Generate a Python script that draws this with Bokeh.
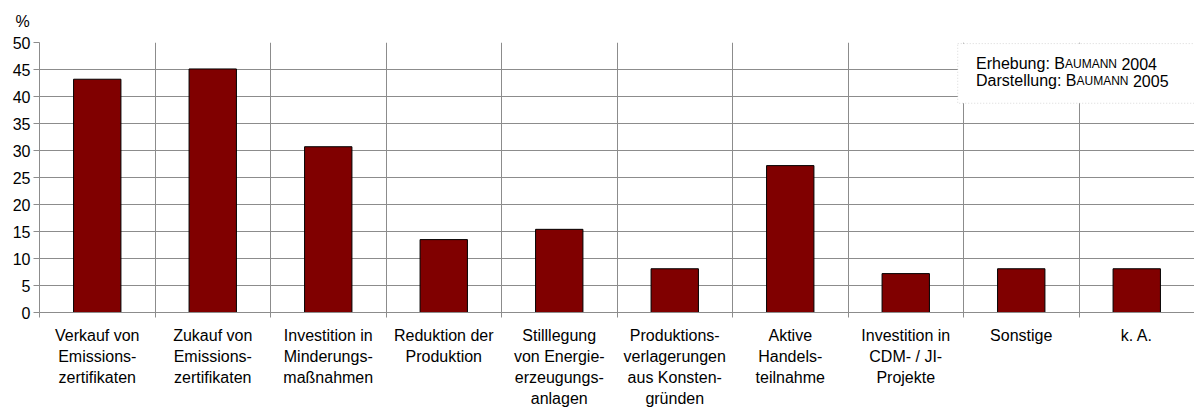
from bokeh.plotting import figure
from bokeh.models import (Range1d, FixedTicker, ColumnDataSource, Label,
                          BoxAnnotation)
from bokeh.embed import file_html
from bokeh.resources import INLINE

# ---- data ----
categories = [
    "Verkauf von\nEmissions-\nzertifikaten",
    "Zukauf von\nEmissions-\nzertifikaten",
    "Investition in\nMinderungs-\nmaßnahmen",
    "Reduktion der\nProduktion",
    "Stilllegung\nvon Energie-\nerzeugungs-\nanlagen",
    "Produktions-\nverlagerungen\naus Konsten-\ngründen",
    "Aktive\nHandels-\nteilnahme",
    "Investition in\nCDM- / JI-\nProjekte",
    "Sonstige",
    "k. A.",
]
values = [43.2, 45.1, 30.7, 13.5, 15.4, 8.1, 27.2, 7.2, 8.1, 8.1]
y_ticks = [0, 5, 10, 15, 20, 25, 30, 35, 40, 45, 50]
y_unit = "%"
note_lines = [
    ["Erhebung:", "B", "AUMANN", "2004"],
    ["Darstellung:", "B", "AUMANN", "2005"],
]

# ---- styles ----
FONT = "Liberation Sans"
FS = 16
SC_FS = 12
GRID = "#8c8c8c"
BAR = "#800000"

n = len(categories)
centers = [i + 0.5 for i in range(n)]
boundaries = list(range(n + 1))

p = figure(width=1194, height=410,
           x_range=Range1d(0, n), y_range=Range1d(y_ticks[0], y_ticks[-1]),
           output_backend="svg", toolbar_location=None,
           min_border_left=39, min_border_right=0,
           min_border_top=42, min_border_bottom=97)
p.outline_line_color = None
p.background_fill_color = "white"
p.border_fill_color = "white"

# unit label as title, top-left
p.title.text = y_unit
p.title.align = "left"
p.title.vertical_align = "top"
p.title.offset = -24
p.title.text_font = FONT
p.title.text_font_size = f"{FS}px"
p.title.text_font_style = "normal"
p.title.text_color = "black"
p.title.standoff = 22

src = ColumnDataSource(dict(x=centers, top=values))
p.vbar(x="x", top="top", width=0.41, source=src,
       fill_color=BAR, line_color="black", line_width=1)

# x axis: category labels at centres, minor ticks at category boundaries
xa = p.xaxis[0]
xa.ticker = FixedTicker(ticks=centers, minor_ticks=boundaries)
xa.major_label_overrides = dict(zip(centers, categories))
xa.major_tick_out = 0
xa.major_tick_in = 0
xa.minor_tick_out = 5
xa.minor_tick_in = 0
xa.minor_tick_line_color = GRID
xa.axis_line_color = GRID
xa.major_label_text_font = FONT
xa.major_label_text_font_size = f"{FS}px"
xa.major_label_text_color = "black"
xa.major_label_text_line_height = 1.25
xa.major_label_standoff = 9

ya = p.yaxis[0]
ya.ticker = FixedTicker(ticks=y_ticks)
ya.major_tick_out = 6
ya.major_tick_in = 0
ya.minor_tick_out = 0
ya.minor_tick_in = 0
ya.major_tick_line_color = GRID
ya.axis_line_color = GRID
ya.major_label_text_font = FONT
ya.major_label_text_font_size = f"{FS}px"
ya.major_label_text_color = "black"
ya.major_label_standoff = 3

p.xgrid.ticker = FixedTicker(ticks=boundaries[1:-1])
p.xgrid.grid_line_color = GRID
p.ygrid.ticker = FixedTicker(ticks=y_ticks)
p.ygrid.grid_line_color = GRID

# note box
box_left = 7.95
p.add_layout(BoxAnnotation(left=box_left, right=n + 0.3, top=49.8, bottom=38.75,
                           fill_color="white", fill_alpha=1.0,
                           line_color="#808080", line_dash="1 2", line_width=1))

# approx. Arial advance widths (em) for piece placement
W = {"Erhebung:": 4.614, "Darstellung:": 5.335, "B": 0.667, "AUMANN": 4.333}
for li, pieces in enumerate(note_lines):
    mid = -21.2 - 17.2 * li
    xo = 18.3
    head, b, sc, year = pieces
    for txt, fs in ((head, FS), (b, FS), (sc, SC_FS), (year, FS)):
        p.add_layout(Label(x=box_left, y=y_ticks[-1], text=txt,
                           x_offset=xo, y_offset=mid,
                           text_baseline="middle", text_align="left",
                           text_font=FONT, text_font_size=f"{fs}px",
                           text_color="black"))
        if txt == head:
            xo += W[txt] * fs + 0.278 * FS
        elif txt in W:
            xo += W[txt] * fs
        if txt == sc:
            xo += 0.278 * FS

open("out.html", "w").write(file_html(p, INLINE))
